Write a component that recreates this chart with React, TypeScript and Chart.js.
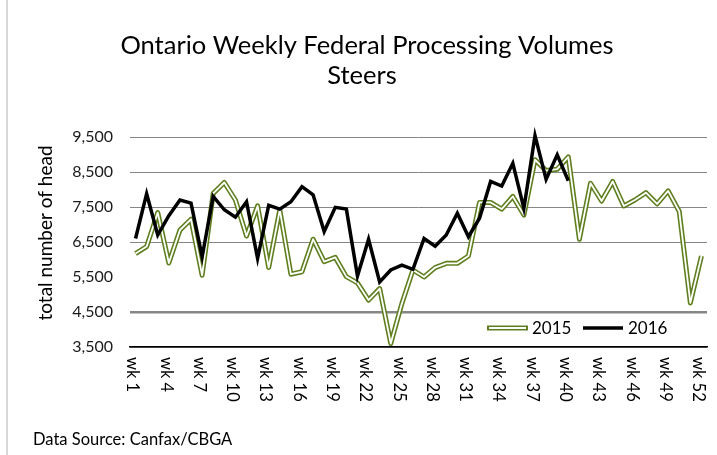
import { useEffect, useRef } from "react";
import { Chart, registerables } from "chart.js";

Chart.register(...registerables);

const weeks = [
  "wk 1", "wk 2", "wk 3", "wk 4", "wk 5", "wk 6", "wk 7", "wk 8", "wk 9", "wk 10",
  "wk 11", "wk 12", "wk 13", "wk 14", "wk 15", "wk 16", "wk 17", "wk 18", "wk 19", "wk 20",
  "wk 21", "wk 22", "wk 23", "wk 24", "wk 25", "wk 26", "wk 27", "wk 28", "wk 29", "wk 30",
  "wk 31", "wk 32", "wk 33", "wk 34", "wk 35", "wk 36", "wk 37", "wk 38", "wk 39", "wk 40",
  "wk 41", "wk 42", "wk 43", "wk 44", "wk 45", "wk 46", "wk 47", "wk 48", "wk 49", "wk 50",
  "wk 51", "wk 52",
];

const volumes2015 = [
  6170, 6370, 7340, 5900, 6840, 7150, 5550, 7890, 8200, 7700,
  6670, 7530, 5770, 7420, 5580, 5650, 6580, 5940, 6060, 5510,
  5330, 4840, 5170, 3600, 4740, 5700, 5500, 5770, 5890, 5890,
  6100, 7630, 7630, 7440, 7800, 7270, 8850, 8540, 8580, 8930,
  6580, 8180, 7670, 8230, 7530, 7700, 7910, 7590, 7960, 7370,
  4760, 6100,
];

const volumes2016 = [
  6600, 7880, 6700, 7250, 7700, 7610, 6080, 7800, 7420, 7210,
  7650, 6030, 7550, 7440, 7650, 8080, 7850, 6800, 7490, 7440,
  5530, 6580, 5360, 5700, 5840, 5720, 6600, 6380, 6700, 7320,
  6650, 7180, 8230, 8100, 8750, 7460, 9540, 8290, 8990, 8250,
];

const yMin = 3500;
const yMax = 9500;
const yStep = 1000;
const hiddenGridValues = [5500];
const heavyGridValues = [4500];

const titleLines = ["Ontario Weekly Federal Processing Volumes", "Steers"];
const yAxisTitle = "total number of head";
const sourceNote = "Data Source: Canfax/CBGA";
const seriesNames = ["2015", "2016"];

const OLIVE = "#5f7f1f";
const GRID = "#868686";
const FONT = "Lato, 'Open Sans', sans-serif";

const textPlugin = {
  id: "excelTexts",
  afterDraw(chart: any) {
    const { ctx, chartArea, scales } = chart;
    const xs = scales.x;
    ctx.save();
    // outer chart border (left edge)
    ctx.strokeStyle = "#d9d9d9";
    ctx.lineWidth = 2;
    ctx.beginPath();
    ctx.moveTo(7, 0);
    ctx.lineTo(7, chart.height);
    ctx.stroke();

    ctx.fillStyle = "#000";
    // title
    ctx.textAlign = "center";
    ctx.textBaseline = "alphabetic";
    ctx.font = `25.5px ${FONT}`;
    ctx.fillText(titleLines[0], 367, 54);
    ctx.fillText(titleLines[1], 362, 84);

    // y axis title
    ctx.save();
    ctx.translate(46, 233);
    ctx.rotate(-Math.PI / 2);
    ctx.textBaseline = "middle";
    ctx.font = `19px ${FONT}`;
    ctx.fillText(yAxisTitle, 0, 0);
    ctx.restore();

    // x labels rotated clockwise
    ctx.font = `16.5px ${FONT}`;
    ctx.textAlign = "left";
    ctx.textBaseline = "middle";
    weeks.forEach((w, i) => {
      if (i % 3 !== 0) return;
      const px = xs.getPixelForValue(i) - 3;
      ctx.save();
      ctx.translate(px, chartArea.bottom + 10);
      ctx.rotate(Math.PI / 2);
      ctx.fillText(w, 0, 0);
      ctx.restore();
    });

    // legend
    const ly = chartArea.bottom - 19;
    ctx.lineCap = "butt";
    ctx.strokeStyle = OLIVE;
    ctx.lineWidth = 5;
    ctx.beginPath();
    ctx.moveTo(487, ly);
    ctx.lineTo(528, ly);
    ctx.stroke();
    ctx.strokeStyle = "#fff";
    ctx.lineWidth = 1.8;
    ctx.beginPath();
    ctx.moveTo(489, ly);
    ctx.lineTo(526, ly);
    ctx.stroke();
    ctx.strokeStyle = "#000";
    ctx.lineWidth = 3.5;
    ctx.beginPath();
    ctx.moveTo(583, ly);
    ctx.lineTo(623, ly);
    ctx.stroke();
    ctx.font = `17px ${FONT}`;
    ctx.fillStyle = "#000";
    ctx.textBaseline = "middle";
    ctx.fillText(seriesNames[0], 532, ly + 1);
    ctx.fillText(seriesNames[1], 628, ly + 1);

    // source note
    ctx.font = `16.5px ${FONT}`;
    ctx.textBaseline = "alphabetic";
    ctx.fillText(sourceNote, 33, 445);
    ctx.restore();
  },
};

export default function App() {
  const canvasRef = useRef<HTMLCanvasElement | null>(null);

  useEffect(() => {
    if (!canvasRef.current) return;
    const chart = new Chart(canvasRef.current, {
      type: "line",
      data: {
        labels: weeks,
        datasets: [
          {
            label: seriesNames[1],
            data: volumes2016,
            borderColor: "#000",
            borderWidth: 3.5,
            pointRadius: 0,
            tension: 0,
            clip: false,
            order: 0,
          },
          {
            label: seriesNames[0] + " inner",
            data: volumes2015,
            borderColor: "#fff",
            borderWidth: 1.8,
            borderJoinStyle: "round",
            pointRadius: 0,
            tension: 0,
            clip: false,
            order: 1,
          },
          {
            label: seriesNames[0],
            data: volumes2015,
            borderColor: OLIVE,
            borderWidth: 5,
            borderJoinStyle: "round",
            pointRadius: 0,
            tension: 0,
            clip: false,
            order: 2,
          },
        ],
      },
      options: {
        animation: false,
        responsive: false,
        events: [],
        layout: { padding: { top: 137, left: 0, right: 10, bottom: 0 } },
        plugins: {
          legend: { display: false },
          title: { display: false },
          tooltip: { enabled: false },
        },
        scales: {
          x: {
            offset: true,
            grid: { display: false, drawTicks: false },
            border: { display: true, color: "#000", width: 1.5 },
            ticks: { display: false },
            afterFit(scale: any) {
              scale.height = 108;
            },
          },
          y: {
            min: yMin,
            max: yMax,
            border: { display: false },
            grid: {
              drawTicks: false,
              color: (c: any) => {
                const v = c.tick?.value;
                if (v === yMin) return "#000";
                if (hiddenGridValues.includes(v)) return "rgba(0,0,0,0)";
                return GRID;
              },
              lineWidth: (c: any) => {
                const v = c.tick?.value;
                if (heavyGridValues.includes(v)) return 2.5;
                if (v === yMin) return 1.5;
                return 1;
              },
            },
            ticks: {
              stepSize: yStep,
              padding: 17,
              color: "#1a1a1a",
              font: { family: FONT, size: 16 },
              callback: (v: any) => Number(v).toLocaleString("en-US"),
            },
            afterFit(scale: any) {
              scale.width = 130;
            },
          },
        },
      },
      plugins: [textPlugin],
    });
    return () => chart.destroy();
  }, []);

  return (
    <div style={{ position: "fixed", left: 0, top: 0, width: 717, height: 455, background: "#fff" }}>
      <canvas ref={canvasRef} width={717} height={455} style={{ display: "block" }} />
    </div>
  );
}
